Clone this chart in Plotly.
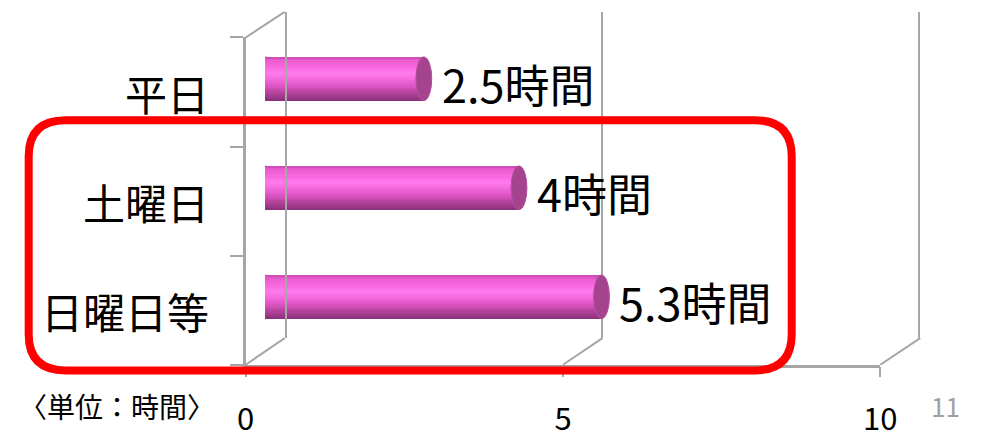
import math
import plotly.graph_objects as go

# ---------------- data ----------------
categories = ["平日", "土曜日", "日曜日等"]
hours = [2.5, 4, 5.3]
value_labels = ["2.5時間", "4時間", "5.3時間"]
x_ticks = [0, 5, 10]
x_tick_labels = ["0", "5", "10"]
unit_label = "〈単位：時間〉"
page_number = "11"

# ---------------- page geometry ----------------
# the figure sits inside the browser's default 8px body margin,
# so a 972x431 figure fills the 988x447 window exactly
OX, OY = 8, 8
PW, PH = 972, 431


def px(x):
    """page pixel x -> paper fraction"""
    return (x - OX) / PW


def py(y):
    """page pixel y (from top) -> paper fraction"""
    return 1 - (y - OY) / PH


FONT = "Noto Sans CJK JP, Noto Sans, sans-serif"
GRAY = "#a6a6a6"

FRONT_X0, FRONT_X1 = 243, 895
FRONT_Y0, FRONT_Y1 = 39, 383
BACK_X0, BACK_X1 = 283, 936
BACK_Y0, BACK_Y1 = 12, 355
BAR_X0, BAR_X1 = 263, 915
BAR_Y0, BAR_Y1 = 25, 369


def front_x(v):
    return FRONT_X0 + (FRONT_X1 - FRONT_X0) * v / 10


def back_x(v):
    return BACK_X0 + (BACK_X1 - BACK_X0) * v / 10


def hex2rgb(h):
    h = h.lstrip("#")
    return tuple(int(h[i:i + 2], 16) for i in (0, 2, 4))


# vertical shading of the cylinder (top -> bottom)
shade_stops = [
    (0.00, "#c64aad"),
    (0.08, "#ea5ccf"),
    (0.25, "#fa68e0"),
    (0.38, "#ff7bee"),
    (0.52, "#f468dc"),
    (0.68, "#dc55c3"),
    (0.82, "#b8449f"),
    (1.00, "#883079"),
]


def shade(t):
    for (a, ca), (b, cb) in zip(shade_stops[:-1], shade_stops[1:]):
        if a <= t <= b:
            f = (t - a) / (b - a) if b > a else 0
            r1, g1, b1 = hex2rgb(ca)
            r2, g2, b2 = hex2rgb(cb)
            return "rgb(%d,%d,%d)" % (round(r1 + (r2 - r1) * f),
                                      round(g1 + (g2 - g1) * f),
                                      round(b1 + (b2 - b1) * f))
    return shade_stops[-1][1]


NSTRIP = 24
strips = [(k / NSTRIP, (k + 1) / NSTRIP, shade((k + 0.5) / NSTRIP)) for k in range(NSTRIP)]

BW = 0.40
CAP_A = 0.125

fig = go.Figure()

for t0, t1, c in strips:
    fig.add_trace(go.Bar(
        x=hours, y=categories, orientation="h", base=0,
        width=BW * (t1 - t0) + 0.003, offset=-BW / 2 + t0 * BW,
        marker=dict(color=c, line_width=0),
        xaxis="x2", yaxis="y2", hoverinfo="skip", showlegend=False,
    ))

shapes = []
# rounded left ends of the cylinders, same shading
for i, _ in enumerate(categories):
    for t0, t1, c in strips:
        pts = []
        n = 3
        for k in range(n + 1):
            t = t0 + (t1 - t0) * k / n
            u = (t - 0.5) * 2
            xx = -CAP_A * math.sqrt(max(0.0, 1 - u * u))
            yy = i - BW / 2 + t * BW
            pts.append((xx, yy))
        path = "M 0.03,%.5f " % (i - BW / 2 + t0 * BW)
        path += " ".join("L %.5f,%.5f" % p for p in pts)
        path += " L 0.03,%.5f Z" % (i - BW / 2 + t1 * BW)
        shapes.append(dict(type="path", path=path, xref="x2", yref="y2",
                           fillcolor=c, line=dict(color=c, width=0.6),
                           layer="above"))
# end caps
for i, v in enumerate(hours):
    shapes.append(dict(type="circle", xref="x2", yref="y2",
                       x0=v - CAP_A, x1=v + CAP_A,
                       y0=i - BW / 2, y1=i + BW / 2,
                       fillcolor="#a5448e", line=dict(color="#b4509c", width=1),
                       layer="above"))

# 3D frame diagonals
for v in x_ticks:
    shapes.append(dict(type="line", xref="paper", yref="paper",
                       x0=px(front_x(v)), y0=py(FRONT_Y1),
                       x1=px(back_x(v)), y1=py(BACK_Y1),
                       line=dict(color=GRAY, width=2), layer="below"))
shapes.append(dict(type="line", xref="paper", yref="paper",
                   x0=px(front_x(0)), y0=py(FRONT_Y0),
                   x1=px(back_x(0)), y1=py(BACK_Y0),
                   line=dict(color=GRAY, width=2), layer="below"))

# red rounded highlight rectangle
L, R, T, B, RAD = 20, 804, 126, 389, 38
rr = (
    f"M {px(L + RAD)},{py(T)} L {px(R - RAD)},{py(T)} "
    f"Q {px(R)},{py(T)} {px(R)},{py(T + RAD)} "
    f"L {px(R)},{py(B - RAD)} Q {px(R)},{py(B)} {px(R - RAD)},{py(B)} "
    f"L {px(L + RAD)},{py(B)} Q {px(L)},{py(B)} {px(L)},{py(B - RAD)} "
    f"L {px(L)},{py(T + RAD)} Q {px(L)},{py(T)} {px(L + RAD)},{py(T)} Z"
)
shapes.append(dict(type="path", path=rr, xref="paper", yref="paper",
                   line=dict(color="#ff0000", width=8), layer="above"))

fig.add_trace(go.Scatter(x=[0], y=[0], xaxis="x", yaxis="y", mode="markers",
                         marker=dict(opacity=0), hoverinfo="skip", showlegend=False))
fig.add_trace(go.Scatter(x=[0], y=[0], xaxis="x3", yaxis="y3", mode="markers",
                         marker=dict(opacity=0), hoverinfo="skip", showlegend=False))

annotations = []
for cat in categories:
    annotations.append(dict(text=cat, x=px(207), xref="paper", xanchor="right",
                            y=cat, yref="y2", yanchor="middle", yshift=-14,
                            showarrow=False, font=dict(family=FONT, size=42, color="#000")))
for cat, v, lab in zip(categories, hours, value_labels):
    annotations.append(dict(text=lab, x=v, xref="x2", xanchor="left", xshift=16,
                            y=cat, yref="y2", yanchor="middle", yshift=-5,
                            showarrow=False, font=dict(family=FONT, size=45, color="#000")))
annotations.append(dict(text=unit_label, x=px(8), y=py(426), xref="paper", yref="paper",
                        xanchor="left", yanchor="middle", showarrow=False,
                        font=dict(family=FONT, size=28, color="#000")))
annotations.append(dict(text=page_number, x=px(945), y=py(426), xref="paper", yref="paper",
                        xanchor="left", yanchor="middle", showarrow=False,
                        font=dict(family=FONT, size=26, color="#a0a0a0")))

fig.update_layout(
    width=PW, height=PH, margin=dict(l=0, r=0, t=0, b=0),
    paper_bgcolor="white", plot_bgcolor="rgba(0,0,0,0)",
    barmode="overlay", bargap=0, showlegend=False,
    shapes=shapes, annotations=annotations,
    font=dict(family=FONT, color="#000"),
    # front plane: tick labels, floor line, left vertical
    xaxis=dict(domain=[px(FRONT_X0), px(FRONT_X1)], range=[0, 10], anchor="y",
               tickvals=x_ticks, ticktext=x_tick_labels, ticks="outside",
               ticklen=10, tickwidth=2, tickcolor=GRAY, showline=True,
               linecolor=GRAY, linewidth=2.5, showgrid=False, zeroline=False,
               tickfont=dict(family=FONT, size=31, color="#000"),
               ticklabelstandoff=15, fixedrange=True),
    yaxis=dict(domain=[py(FRONT_Y1), py(FRONT_Y0)], range=[0, 3], anchor="x",
               tickvals=[0, 1, 2, 3], ticks="outside", ticklen=13, tickwidth=2,
               tickcolor=GRAY, showticklabels=False, showline=True,
               linecolor=GRAY, linewidth=2.5, showgrid=False, zeroline=False,
               fixedrange=True),
    # bar plane
    xaxis2=dict(domain=[px(BAR_X0), px(BAR_X1)], range=[0, 10], anchor="y2",
                visible=False, fixedrange=True),
    yaxis2=dict(domain=[py(BAR_Y1), py(BAR_Y0)], type="category",
                categoryorder="array", categoryarray=categories,
                range=[2.5, -0.5], anchor="x2", visible=False, fixedrange=True),
    # back wall gridlines
    xaxis3=dict(domain=[px(BACK_X0), px(BACK_X1)], range=[-0.02, 10.02], anchor="y3",
                tickvals=x_ticks, showticklabels=False, ticks="", showgrid=True,
                gridcolor=GRAY, gridwidth=2, showline=False, zeroline=False,
                fixedrange=True),
    yaxis3=dict(domain=[py(BACK_Y1), py(BACK_Y0)], range=[0, 1], anchor="x3",
                showticklabels=False, showgrid=False, showline=False,
                zeroline=False, fixedrange=True),
)

fig.write_html("out.html", config={"displayModeBar": False})
